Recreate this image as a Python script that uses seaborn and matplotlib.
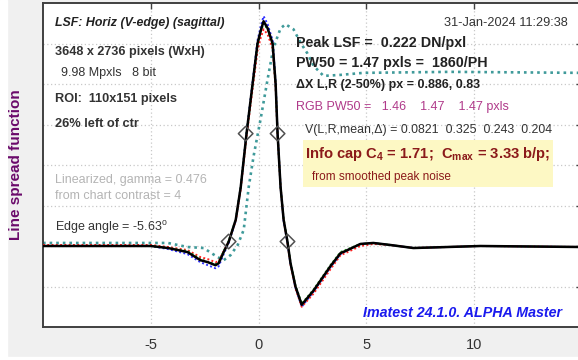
import matplotlib
matplotlib.use("Agg")
import matplotlib.pyplot as plt
from matplotlib.patches import Rectangle
import seaborn as sns
import pandas as pd

# ---------------- data ----------------
x_pts = [-10, -5, -4.2, -3.3, -2.7, -2.35, -2.0, -1.85, -1.62, -1.39, -1.06, -0.83, -0.56,
         -0.28, -0.05, 0.09, 0.23, 0.42, 0.65, 0.79, 0.88, 1.02, 1.16, 1.34, 1.48, 1.71,
         2.0, 2.55, 3.33, 3.8, 4.03, 4.72, 5.32, 6.11, 7.18, 8.75, 10.28, 15]
lsf_black = [0, 0, -0.002, -0.006, -0.014, -0.016, -0.019, -0.017, -0.006, 0.004, 0.026, 0.058, 0.111,
             0.160, 0.200, 0.212, 0.222, 0.215, 0.200, 0.160, 0.111, 0.058, 0.026, 0.004, -0.017, -0.040,
             -0.058, -0.044, -0.020, -0.007, -0.005, 0.002, 0.003, 0.001, -0.002, -0.001, 0, -0.001]
lsf_red = [0.001, 0.001, -0.001, -0.004, -0.011, -0.013, -0.016, -0.015, -0.005, 0.004, 0.025, 0.056, 0.108,
           0.155, 0.193, 0.205, 0.214, 0.209, 0.195, 0.157, 0.110, 0.058, 0.026, 0.003, -0.018, -0.042,
           -0.060, -0.047, -0.023, -0.009, -0.007, 0.000, 0.002, 0.001, -0.002, -0.001, 0, -0.001]
lsf_green = [0, 0, -0.002, -0.005, -0.013, -0.016, -0.018, -0.016, -0.005, 0.005, 0.026, 0.058, 0.111,
             0.159, 0.199, 0.211, 0.220, 0.214, 0.199, 0.160, 0.111, 0.058, 0.027, 0.005, -0.016, -0.039,
             -0.057, -0.043, -0.019, -0.006, -0.004, 0.002, 0.003, 0.001, -0.002, -0.001, 0, -0.001]
lsf_blue = [0, 0, -0.003, -0.008, -0.016, -0.019, -0.022, -0.020, -0.008, 0.003, 0.025, 0.058, 0.112,
            0.162, 0.203, 0.216, 0.227, 0.219, 0.203, 0.162, 0.112, 0.058, 0.025, 0.003, -0.018, -0.041,
            -0.060, -0.045, -0.021, -0.008, -0.005, 0.002, 0.003, 0.001, -0.002, -0.001, 0, -0.001]

teal_x = [-10, -5, -4.21, -3.29, -2.55, -1.90, -1.62, -1.30, -0.97, -0.69, -0.46, -0.23, 0.09, 0.42,
          0.69, 1.02, 1.25, 1.62, 1.94, 2.27, 2.55, 3.01, 3.80, 4.86, 8.9, 15]
teal_y = [0.003, 0.003, 0.003, -0.001, -0.002, -0.011, -0.014, -0.009, 0.001, 0.016, 0.058, 0.089, 0.125, 0.165,
          0.196, 0.215, 0.219, 0.214, 0.201, 0.190, 0.178, 0.168, 0.169, 0.171, 0.172, 0.171]

diamond_x = [-1.39, -0.60, 0.88, 1.34]
diamond_y = [0.0044, 0.111, 0.111, 0.0044]

x_ticks = [-5, 0, 5, 10]
x_tick_labels = ["-5", "0", "5", "10"]

# ---------------- figure ----------------
sns.set_style("white")
plt.rcParams['font.family'] = ['Liberation Sans', 'DejaVu Sans']
plt.rcParams['mathtext.fontset'] = 'custom'
plt.rcParams['mathtext.rm'] = 'Liberation Sans'
plt.rcParams['mathtext.bf'] = 'Liberation Sans:bold'
plt.rcParams['mathtext.it'] = 'Liberation Sans:italic'

W, H = 578, 360
fig = plt.figure(figsize=(W / 100, H / 100), dpi=100, facecolor='#f0f0f0')
fig.patches.append(Rectangle((0, 0), 7 / W, 1, transform=fig.transFigure, color='white', zorder=0))
fig.patches.append(Rectangle((0, 0), 1, 3 / H, transform=fig.transFigure, color='white', zorder=0))

ax = fig.add_axes([43 / W, 33 / H, 539 / W, 324 / H])
ax.set_facecolor('white')

df_main = pd.DataFrame({"x": x_pts, "black": lsf_black, "red": lsf_red,
                        "green": lsf_green, "blue": lsf_blue})
df_teal = pd.DataFrame({"x": teal_x, "y": teal_y})
df_dia = pd.DataFrame({"x": diamond_x, "y": diamond_y})

sns.lineplot(data=df_teal, x="x", y="y", ax=ax, color='#3f9a9a', lw=1.9,
             linestyle=(0, (1, 1.5)), sort=False, estimator=None, zorder=2)
sns.lineplot(data=df_main, x="x", y="blue", ax=ax, color='#3030ff', lw=1.4,
             linestyle=(0, (1, 1.2)), sort=False, estimator=None, zorder=3)
sns.lineplot(data=df_main, x="x", y="red", ax=ax, color='#ff2020', lw=1.4,
             linestyle=(0, (1, 1.2)), sort=False, estimator=None, zorder=3)
sns.lineplot(data=df_main, x="x", y="green", ax=ax, color='#20a020', lw=1.4,
             linestyle=(0, (1, 1.2)), sort=False, estimator=None, zorder=3)
sns.lineplot(data=df_main, x="x", y="black", ax=ax, color='black', lw=1.8,
             sort=False, estimator=None, zorder=4)
sns.scatterplot(data=df_dia, x="x", y="y", ax=ax, marker='D', s=55,
                facecolor='none', edgecolor='#505050', linewidth=1.1, zorder=5)

ax.set_xlim(-10, 15)
ax.set_ylim(-0.08, 0.24)
ax.set_xticks(x_ticks)
ax.set_xticklabels(x_tick_labels)
ax.set_yticks([-0.04, 0, 0.04, 0.08, 0.12, 0.16, 0.2])
ax.set_yticklabels([])
ax.set_xlabel("")
ax.set_ylabel("")
ax.grid(True, color='#c8c8c8', linestyle=(0, (1, 2)), lw=0.9)
ax.tick_params(axis='both', direction='in', length=4, width=1, color='#404040',
               top=True, right=True, labelsize=10.5, labelcolor='#333333', pad=8)
for sp in ax.spines.values():
    sp.set_color('#404040')
    sp.set_linewidth(1.4)

# ---------------- text ----------------
def t(px, py, s, **kw):
    kw.setdefault('va', 'center')
    kw.setdefault('ha', 'left')
    fig.text(px / W, 1 - py / H, s, **kw)

dk = '#333333'
t(55, 23, "LSF: Horiz (V-edge) (sagittal)", fontsize=8.9, fontweight='bold', style='italic', color='#222222')
t(55, 52, "3648 x 2736 pixels (WxH)", fontsize=9.1, fontweight='bold', color=dk)
t(61, 73, "9.98 Mpxls   8 bit", fontsize=9.0, color=dk)
t(55, 99, "ROI:  110x151 pixels", fontsize=9.2, fontweight='bold', color=dk)
t(55, 124, "26% left of ctr", fontsize=9.2, fontweight='bold', color=dk)
t(55, 180, "Linearized, gamma = 0.476", fontsize=9.0, color='#b4b4b4')
t(55, 196, "from chart contrast = 4", fontsize=9.0, color='#b4b4b4')
t(55, 228, r"Edge angle = -5.63$^{\rm o}$", fontsize=9.0, color=dk)

t(568, 23, "31-Jan-2024 11:29:38", fontsize=9.2, color=dk, ha='right')
t(296, 43, "Peak LSF =  0.222 DN/pxl", fontsize=10.3, fontweight='bold', color='#222222')
t(296, 63, "PW50 = 1.47 pxls =  1860/PH", fontsize=10.3, fontweight='bold', color='#222222')
t(296, 85, "ΔX L,R (2-50%) px = 0.886, 0.83", fontsize=9.0, fontweight='bold', color='#222222')
t(296, 107, "RGB PW50 =   1.46    1.47    1.47 pxls", fontsize=9.0, color='#b03a8a')
t(305, 130, "V(L,R,mean,Δ) = 0.0821  0.325  0.243  0.204", fontsize=8.9, color=dk)

fig.patches.append(Rectangle((303 / W, 1 - 187 / H), 250 / W, 47 / H, transform=fig.transFigure,
                             facecolor='#fdf8c4', edgecolor='none', zorder=1))
t(305, 154, r"Info cap C$_{\bf 4}$ = 1.71;  C$_{\bf max}$ = 3.33 b/p;", fontsize=10.6,
  fontweight='bold', color='#8b1a1a', zorder=2)
t(312, 177, "from smoothed peak noise", fontsize=8.5, color='#8b1a1a', zorder=2)

t(363, 313, "Imatest 24.1.0. ALPHA Master", fontsize=10.3, fontweight='bold', style='italic', color='#1a1aee')

t(16, 165, "Line spread function", fontsize=11, fontweight='bold', color='#6a0a6a',
  rotation=90, ha='center')

fig.savefig("out.png", dpi=100, facecolor=fig.get_facecolor())
